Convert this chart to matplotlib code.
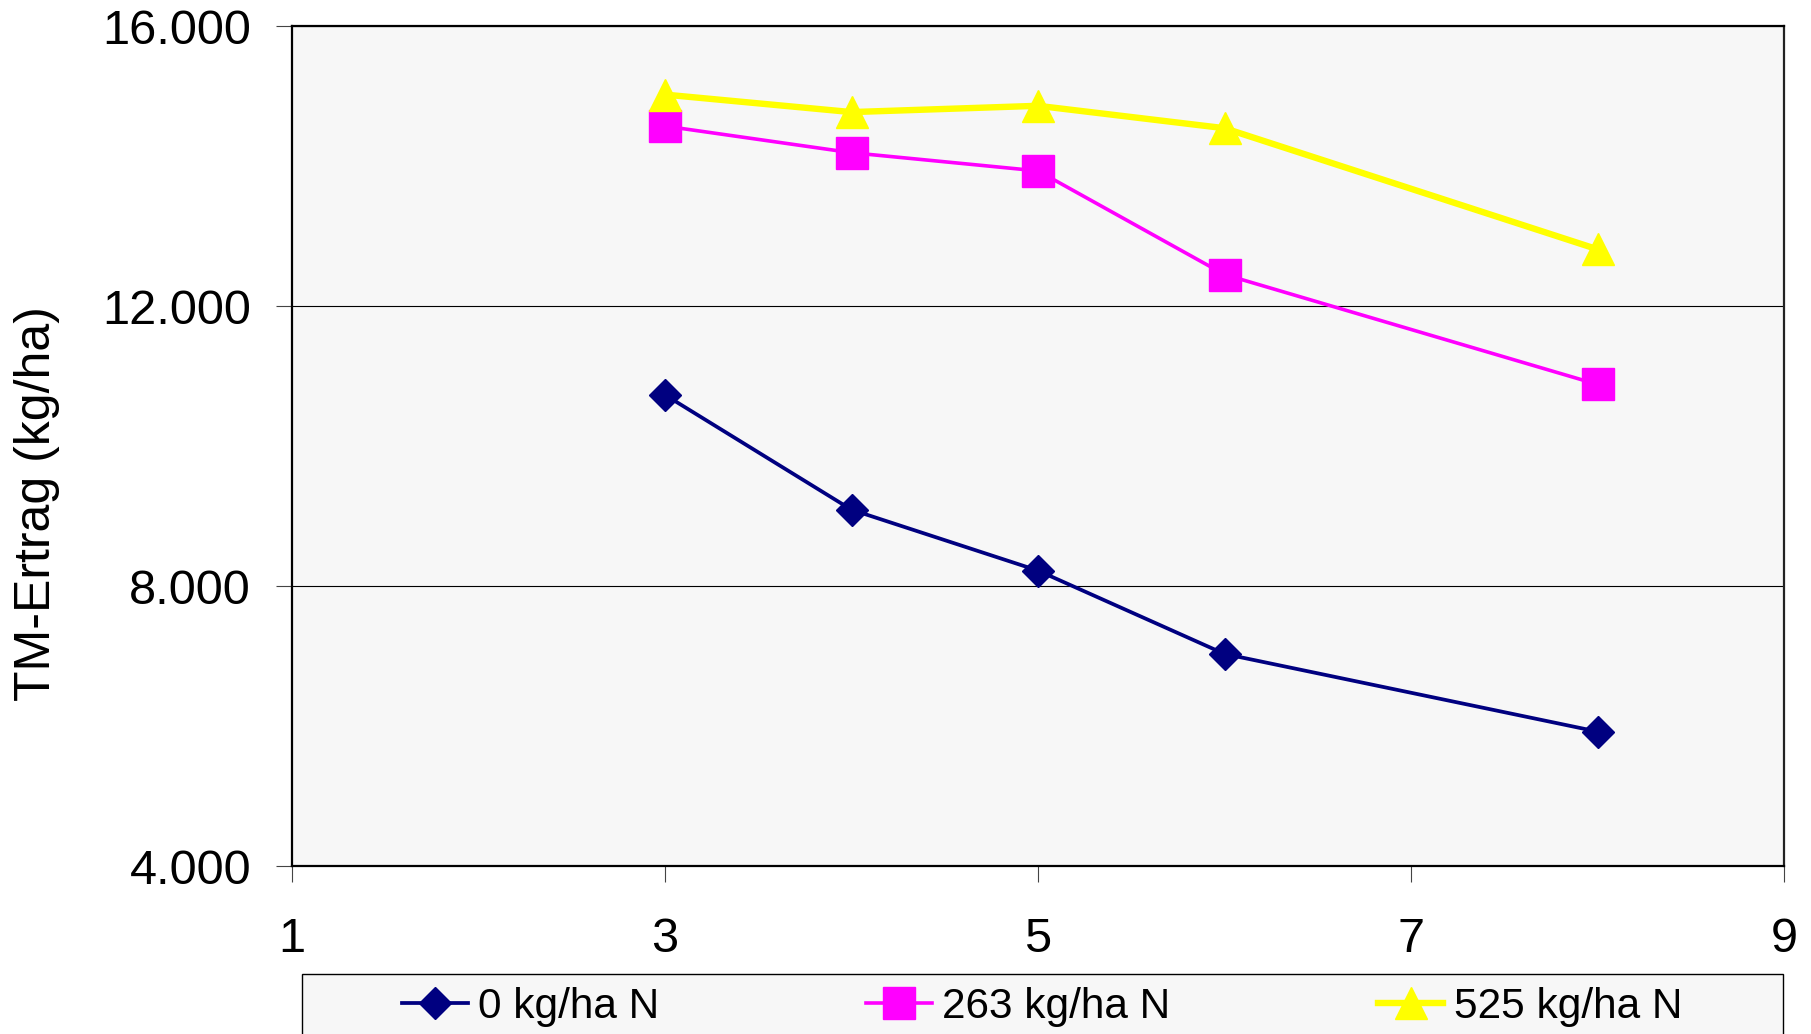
import matplotlib
matplotlib.use('Agg')
import matplotlib.pyplot as plt
from matplotlib.ticker import FuncFormatter
from matplotlib.patches import Rectangle

plt.rcParams['font.family'] = ['Liberation Sans', 'DejaVu Sans']

# Daten
x_vals = [3, 4, 5, 6, 8]
ertrag_0 = [10730, 9090, 8220, 7030, 5920]
ertrag_263 = [14570, 14190, 13930, 12450, 10880]
ertrag_525 = [15020, 14770, 14860, 14540, 12810]
labels = ['0 kg/ha N', '263 kg/ha N', '525 kg/ha N']

W, H = 1811, 1034
fig = plt.figure(figsize=(W / 100, H / 100), dpi=100)
ax = fig.add_axes([292 / W, 168 / H, (1784 - 292) / W, (866 - 26) / H])
ax.set_facecolor('#f7f7f7')

l1, = ax.plot(x_vals, ertrag_0, color='#000080', lw=2.7, marker='D', ms=16,
              label=labels[0], zorder=3)
l2, = ax.plot(x_vals, ertrag_263, color='#ff00ff', lw=2.6, marker='s', ms=22.5,
              label=labels[1], zorder=3)
l3, = ax.plot(x_vals, ertrag_525, color='#ffff00', lw=4.6, marker='^', ms=23,
              label=labels[2], zorder=3)

ax.set_xlim(1, 9)
ax.set_ylim(4000, 16000)
ax.set_xticks([1, 3, 5, 7, 9])
ax.set_yticks([4000, 8000, 12000, 16000])
ax.yaxis.set_major_formatter(FuncFormatter(lambda v, p: f"{int(v):,}".replace(',', '.')))
ax.grid(axis='y', color='black', lw=0.8)
ax.set_axisbelow(True)

for s in ax.spines.values():
    s.set_linewidth(1.6)
    s.set_color('black')
ax.spines['right'].set_color('#222222')

ax.tick_params(axis='y', direction='out', length=11.5, width=0.8, color='#444444',
               labelsize=35, pad=18)
ax.tick_params(axis='x', direction='out', length=11.5, width=0.8, color='#444444',
               labelsize=35, pad=25)

fig.text(37 / W, 1 - 504 / H, 'TM-Ertrag (kg/ha)', rotation=90, fontsize=36,
         ha='center', va='center')

# Legendenrahmen
fig.patches.append(Rectangle((302 / W, -10 / H), (1783 - 302) / W, (1044 - 974) / H,
                             transform=fig.transFigure, facecolor='#f7f7f7',
                             edgecolor='black', lw=1.0, zorder=0))
fig.legend(handles=[l1, l2, l3], loc='center', ncol=3, mode='expand',
           bbox_to_anchor=(402 / W, (1034 - 1040) / H, (1682 - 402) / W, 66 / H),
           frameon=False, fontsize=30.5, handlelength=1.55, handletextpad=0.24,
           borderpad=0, borderaxespad=0, markerscale=1.0)

fig.savefig('out.png', dpi=100, facecolor='white')
